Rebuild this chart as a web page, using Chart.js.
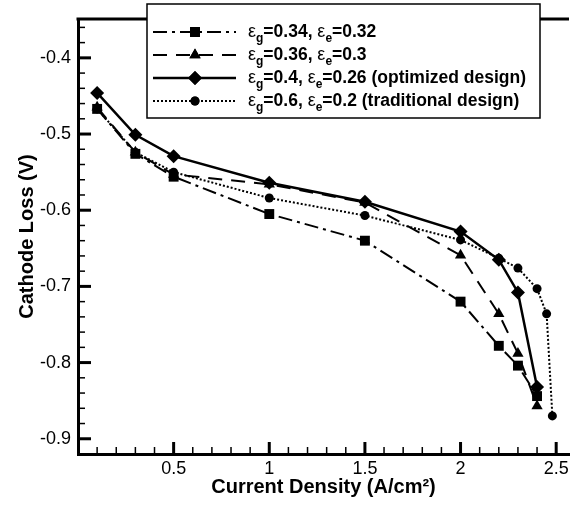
<!DOCTYPE html>
<html lang="en">
<head>
<meta charset="UTF-8">
<title>Cathode Loss vs Current Density</title>
<script src="https://cdn.jsdelivr.net/npm/chart.js"></script>
<style>
  html, body { margin: 0; padding: 0; background: #fff; }
  #wrap { width: 576px; height: 505px; }
</style>
</head>
<body>
<div id="wrap"><canvas id="chart"></canvas></div>
<script>
// current density (A/cm2) for the first three cases
const density = [0.1, 0.3, 0.5, 1, 1.5, 2, 2.2, 2.3, 2.4];
// traditional design goes a bit further
const densityTrad = [0.1, 0.3, 0.5, 1, 1.5, 2, 2.2, 2.3, 2.4, 2.45, 2.48];

// cathode loss (V)
const loss034 = [-0.467, -0.526, -0.556, -0.605, -0.640, -0.720, -0.778, -0.804, -0.844];
const loss036 = [-0.465, -0.524, -0.553, -0.566, -0.590, -0.659, -0.736, -0.788, -0.857];
const loss040 = [-0.446, -0.501, -0.529, -0.564, -0.589, -0.628, -0.665, -0.708, -0.832];
const loss060 = [-0.467, -0.524, -0.550, -0.584, -0.607, -0.639, -0.663, -0.676, -0.703, -0.736, -0.870];

// legend rows: eps_g, eps_e, note
const epsG = ['0.34', '0.36', '0.4', '0.6'];
const epsE = ['0.32', '0.3', '0.26', '0.2'];
const notes = ['', '', ' (optimized design)', ' (traditional design)'];

const xTicks = [0.5, 1, 1.5, 2, 2.5];
const yTicks = [-0.9, -0.8, -0.7, -0.6, -0.5, -0.4];

const styles = [
  { pointStyle: 'rect', radius: 7, dash: [14, 5, 3, 5], width: 2 },
  { pointStyle: 'triangle', radius: 6.5, dash: [14, 9], width: 2 },
  { pointStyle: 'rectRot', radius: 7, dash: [], width: 2.5 },
  { pointStyle: 'circle', radius: 4.5, dash: [2, 2], width: 2 }
];

function pts(xs, ys) {
  return xs.map((x, i) => ({ x: x, y: ys[i] }));
}

function makeSet(label, data, st) {
  return {
    label: label,
    data: data,
    showLine: true,
    borderColor: '#000',
    backgroundColor: '#000',
    borderWidth: st.width,
    borderDash: st.dash,
    pointStyle: st.pointStyle,
    pointRadius: st.radius,
    pointHoverRadius: st.radius,
    pointBorderWidth: 0,
    pointBackgroundColor: '#000',
    tension: 0
  };
}

// inward ticks, top frame line and the boxed legend
const frame = {
  id: 'frame',
  afterDraw(chart) {
    const ctx = chart.ctx;
    const a = chart.chartArea;
    const xs = chart.scales.x, ys = chart.scales.y;
    ctx.save();
    ctx.strokeStyle = '#000';

    for (let i = 1; i <= 25; i++) {
      const px = xs.getPixelForValue(i / 10);
      const major = i % 5 === 0;
      ctx.lineWidth = major ? 3 : 1.5;
      ctx.beginPath();
      ctx.moveTo(px, a.bottom);
      ctx.lineTo(px, a.bottom - (major ? 12 : 7));
      ctx.stroke();
    }
    for (let i = -46; i <= -18; i++) {
      const py = ys.getPixelForValue(i / 50);
      const major = i % 5 === 0;
      ctx.lineWidth = major ? 3 : 1.5;
      ctx.beginPath();
      ctx.moveTo(a.left, py);
      ctx.lineTo(a.left + (major ? 13 : 7), py);
      ctx.stroke();
    }

    ctx.lineWidth = 3;
    ctx.beginPath();
    ctx.moveTo(a.left - 1.5, a.top);
    ctx.lineTo(a.right, a.top);
    ctx.stroke();

    // legend box
    ctx.fillStyle = '#fff';
    ctx.fillRect(147, 4, 393, 114);
    ctx.lineWidth = 1.5;
    ctx.strokeRect(147, 4, 393, 114);

    for (let r = 0; r < 4; r++) {
      const y = 32 + r * 23;
      const st = styles[r];
      ctx.lineWidth = st.width;
      ctx.setLineDash(st.dash);
      ctx.beginPath();
      ctx.moveTo(153, y);
      ctx.lineTo(236, y);
      ctx.stroke();
      ctx.setLineDash([]);
      ctx.fillStyle = '#000';
      Chart.helpers.drawPoint(ctx, { pointStyle: st.pointStyle, radius: st.radius, rotation: 0, borderWidth: 0 }, 195, y);
      ctx.fill();

      let x = 248;
      ctx.textBaseline = 'middle';
      ctx.textAlign = 'left';
      const parts = [
        ['ε', '18px "Liberation Sans"', 0],
        ['g', 'bold 12px "Liberation Sans"', 7],
        ['=' + epsG[r] + ', ', 'bold 17.5px "Liberation Sans"', 0],
        ['ε', '18px "Liberation Sans"', 0],
        ['e', 'bold 12px "Liberation Sans"', 7],
        ['=' + epsE[r] + notes[r], 'bold 17.5px "Liberation Sans"', 0]
      ];
      parts.forEach(p => {
        ctx.font = p[1];
        ctx.fillText(p[0], x, y + p[2]);
        x += ctx.measureText(p[0]).width;
      });
    }
    ctx.restore();
  }
};

const ctx = document.getElementById('chart').getContext('2d');
new Chart(ctx, {
  type: 'scatter',
  data: {
    datasets: [
      makeSet('eps_g=0.34, eps_e=0.32', pts(density, loss034), styles[0]),
      makeSet('eps_g=0.36, eps_e=0.3', pts(density, loss036), styles[1]),
      makeSet('eps_g=0.4, eps_e=0.26', pts(density, loss040), styles[2]),
      makeSet('eps_g=0.6, eps_e=0.2', pts(densityTrad, loss060), styles[3])
    ]
  },
  options: {
    responsive: true,
    maintainAspectRatio: false,
    animation: false,
    events: [],
    layout: { padding: { top: 19, right: 0, bottom: 0, left: 0 } },
    plugins: { legend: { display: false }, tooltip: { enabled: false } },
    scales: {
      x: {
        type: 'linear',
        min: 0,
        max: 2.567,
        afterFit(scale) { scale.height = 51; },
        afterBuildTicks(scale) { scale.ticks = xTicks.map(v => ({ value: v })); },
        grid: { display: false, drawTicks: false },
        border: { display: true, width: 3, color: '#000' },
        ticks: {
          padding: 4,
          color: '#000',
          font: { family: 'Liberation Sans', size: 18 },
          callback: v => String(v)
        },
        title: {
          display: true,
          text: 'Current Density (A/cm²)',
          color: '#000',
          font: { family: 'Liberation Sans', size: 20, weight: 'bold' },
          padding: { top: 0, bottom: 6 }
        }
      },
      y: {
        type: 'linear',
        min: -0.92,
        max: -0.349,
        afterFit(scale) { scale.width = 78; },
        afterBuildTicks(scale) { scale.ticks = yTicks.map(v => ({ value: v })); },
        grid: { display: false, drawTicks: false },
        border: { display: true, width: 3, color: '#000' },
        ticks: {
          padding: 7,
          color: '#000',
          font: { family: 'Liberation Sans', size: 18 },
          callback: v => v.toFixed(1)
        },
        title: {
          display: true,
          text: 'Cathode Loss (V)',
          color: '#000',
          font: { family: 'Liberation Sans', size: 20, weight: 'bold' },
          padding: { top: 15, bottom: 0 }
        }
      }
    }
  },
  plugins: [frame]
});
</script>
</body>
</html>
